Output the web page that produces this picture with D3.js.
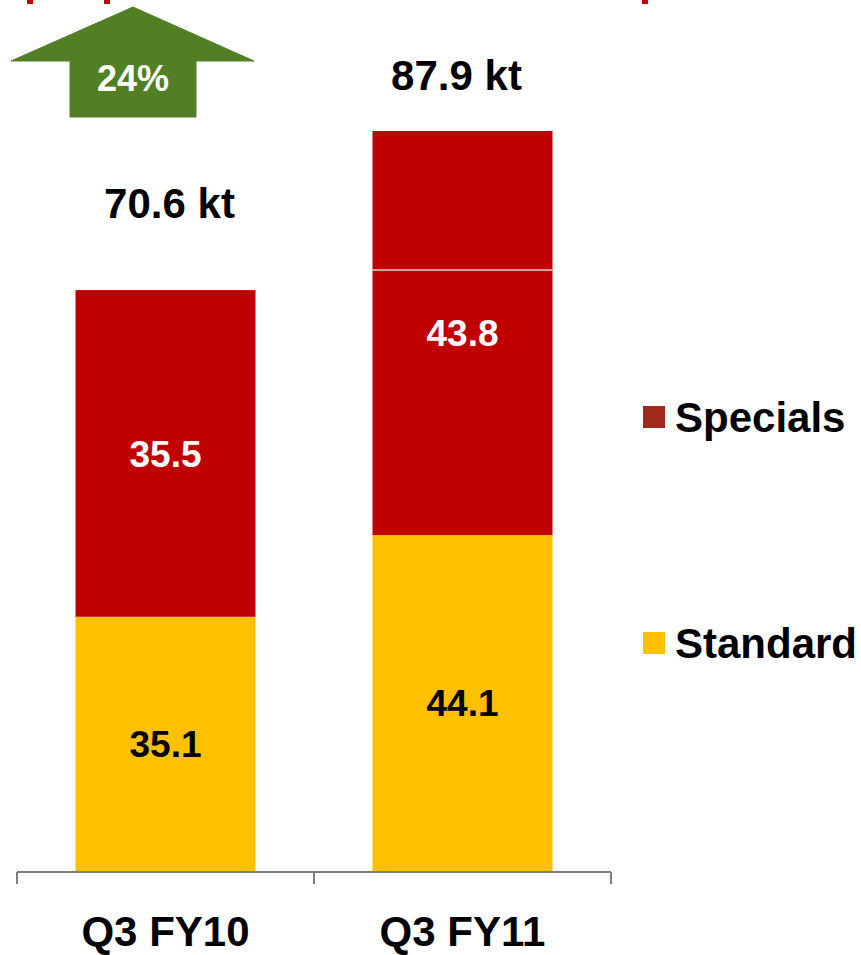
<!DOCTYPE html>
<html>
<head>
<meta charset="utf-8">
<script src="https://cdn.jsdelivr.net/npm/d3@7"></script>
<style>
  body { margin: 0; background: #fff; }
  svg { display: block; font-family: "Liberation Sans", Arial, sans-serif; font-weight: bold; }
</style>
</head>
<body>
<script>
// Chart data
const categories = ['Q3 FY10', 'Q3 FY11'];
const standardLabels = [35.1, 44.1];
const specialsLabels = [35.5, 43.8];
const totalLabels = [70.6, 87.9];
const growthLabel = '24%';
// Segment heights as they are drawn in the picture (the bars are not to one scale)
const standardDrawn = [30.2, 39.9];
const specialsDrawn = [38.8, 48.0];
const dividerDrawn = [null, 71.4];
const legendItems = ['Specials', 'Standard'];

const width = 861, height = 955;
const colors = { Standard: '#FFC000', Specials: '#C00000' };
const legendColors = { Specials: '#9E2A1F', Standard: '#FFC000' };

const svg = d3.select('body')
    .append('svg')
    .attr('width', width)
    .attr('height', height);

// Cropped title remnants at the top edge
svg.selectAll('.crop')
    .data([27, 104, 642])
    .enter()
    .append('rect')
    .attr('x', d => d)
    .attr('y', 0)
    .attr('width', 6)
    .attr('height', 4)
    .attr('fill', '#C00000');

// Scales
const x = d3.scaleBand()
    .domain(categories)
    .range([17, 611])
    .padding(0);

const barWidth = x.bandwidth() * 0.606;

const y = d3.scaleLinear()
    .domain([0, 87.9])
    .range([871, 131]);

// Stack the drawn segments
const rows = categories.map((c, i) => ({
    cat: c,
    Standard: standardDrawn[i],
    Specials: specialsDrawn[i]
}));
const series = d3.stack().keys(['Standard', 'Specials'])(rows);

const labelText = { Standard: standardLabels, Specials: specialsLabels };
const labelColor = { Standard: '#000', Specials: '#fff' };

series.forEach(s => {
    const g = svg.append('g').attr('class', 'series-' + s.key);
    g.selectAll('rect')
        .data(s)
        .enter()
        .append('rect')
        .attr('x', d => x(d.data.cat) + (x.bandwidth() - barWidth) / 2)
        .attr('y', d => y(d[1]))
        .attr('width', barWidth)
        .attr('height', d => y(d[0]) - y(d[1]))
        .attr('fill', colors[s.key]);

    g.selectAll('text')
        .data(s)
        .enter()
        .append('text')
        .attr('x', d => x(d.data.cat) + x.bandwidth() / 2)
        .attr('y', d => (y(d[0]) + y(d[1])) / 2)
        .attr('dy', '0.36em')
        .attr('text-anchor', 'middle')
        .attr('font-size', 37)
        .attr('fill', labelColor[s.key])
        .text((d, i) => labelText[s.key][i].toFixed(1));
});

// Thin white divider inside the second bar
svg.selectAll('.divider')
    .data(categories.map((c, i) => ({ cat: c, v: dividerDrawn[i] })).filter(d => d.v != null))
    .enter()
    .append('rect')
    .attr('class', 'divider')
    .attr('x', d => x(d.cat) + (x.bandwidth() - barWidth) / 2)
    .attr('y', d => y(d.v) - 0.5)
    .attr('width', barWidth)
    .attr('height', 1.2)
    .attr('fill', '#fff');

// Total labels above bars
const totalGap = [72, 41];
const totalDx = [4, -6];
svg.selectAll('.total')
    .data(categories)
    .enter()
    .append('text')
    .attr('class', 'total')
    .attr('x', (d, i) => x(d) + x.bandwidth() / 2 + totalDx[i])
    .attr('y', (d, i) => y(standardDrawn[i] + specialsDrawn[i]) - totalGap[i])
    .attr('text-anchor', 'middle')
    .attr('font-size', 42)
    .attr('fill', '#000')
    .text((d, i) => totalLabels[i].toFixed(1) + ' kt');

// X axis
const axis = svg.append('g')
    .attr('transform', 'translate(0,872)')
    .call(d3.axisBottom(x).tickSize(0).tickFormat(''));
axis.select('.domain').remove();
axis.append('line')
    .attr('x1', 17).attr('x2', 611)
    .attr('stroke', '#7F7F7F').attr('stroke-width', 2);
axis.selectAll('.bound')
    .data([17, x(categories[1]), 611])
    .enter()
    .append('line')
    .attr('x1', d => d).attr('x2', d => d)
    .attr('y1', 0).attr('y2', 12)
    .attr('stroke', '#7F7F7F').attr('stroke-width', 2);

svg.selectAll('.cat')
    .data(categories)
    .enter()
    .append('text')
    .attr('class', 'cat')
    .attr('x', d => x(d) + x.bandwidth() / 2)
    .attr('y', 946)
    .attr('text-anchor', 'middle')
    .attr('font-size', 42)
    .attr('fill', '#000')
    .text(d => d);

// Growth arrow
const arrow = svg.append('g').attr('transform', 'translate(133,7)');
arrow.append('path')
    .attr('d', 'M0,0 L121,54 L63,54 L63,110 L-63,110 L-63,54 L-122,54 Z')
    .attr('fill', '#527F24')
    .attr('stroke', '#507E2A')
    .attr('stroke-width', 1);
arrow.append('text')
    .attr('x', 0)
    .attr('y', 84)
    .attr('text-anchor', 'middle')
    .attr('font-size', 36)
    .attr('fill', '#fff')
    .text(growthLabel);

// Legend
const legend = svg.append('g').attr('transform', 'translate(643,406)');
const li = legend.selectAll('g')
    .data(legendItems)
    .enter()
    .append('g')
    .attr('transform', (d, i) => `translate(0,${i * 226})`);
li.append('rect')
    .attr('width', 22)
    .attr('height', 22)
    .attr('fill', d => legendColors[d]);
li.append('text')
    .attr('x', 32)
    .attr('y', 26)
    .attr('font-size', 42)
    .attr('fill', '#000')
    .text(d => d);
</script>
</body>
</html>
